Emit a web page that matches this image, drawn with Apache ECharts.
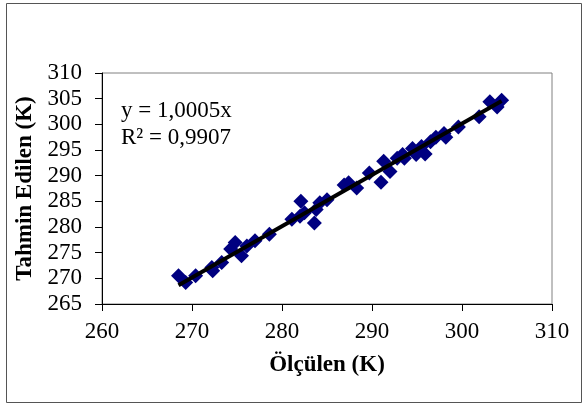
<!DOCTYPE html>
<html>
<head>
<meta charset="utf-8">
<script src="https://cdn.jsdelivr.net/npm/echarts@6/dist/echarts.min.js"></script>
<style>
html, body { margin: 0; padding: 0; background: #fff; }
#app { width: 583px; height: 403px; }
</style>
</head>
<body>
<div id="app"></div>
<script>
// ölçülen (x) ve tahmin edilen (y) sıcaklıklar, K
var olculen = [268.5, 269.3, 270.4, 272.2, 272.3, 273.3, 274.3, 274.8, 275.5, 276.1,
    277.0, 278.6, 281.1, 282.0, 282.1, 282.5, 283.6, 283.8, 284.2, 285.0,
    286.9, 287.4, 288.3, 289.7, 291.0, 291.3, 292.0, 292.8, 293.4, 293.6,
    294.5, 294.9, 295.5, 295.9, 296.5, 297.1, 298.0, 298.2, 299.6, 301.9,
    303.1, 303.9, 304.4];
var tahmin = [270.5, 269.2, 270.5, 272.1, 271.5, 273.1, 275.7, 277.0, 274.4, 276.3,
    277.3, 278.6, 281.5, 282.1, 285.0, 282.8, 280.8, 283.4, 284.7, 285.3,
    288.2, 288.6, 287.6, 290.5, 288.7, 292.8, 290.8, 293.4, 294.1, 293.4,
    295.3, 294.1, 295.7, 294.2, 296.6, 297.5, 298.2, 297.5, 299.5, 301.5,
    304.4, 303.4, 304.7];
var egim = 1.0005;
var denklem = 'y = 1,0005x';
var r2 = 'R² = 0,9907';

var noktalar = olculen.map(function (x, i) { return [x, tahmin[i]]; });
var xMin = Math.min.apply(null, olculen), xMax = Math.max.apply(null, olculen);
var trend = [[xMin, xMin * egim], [xMax, xMax * egim]];

var font = '"Liberation Serif", "Times New Roman", serif';
var myChart = echarts.init(document.getElementById('app'));
var option = {
    animation: false,
    backgroundColor: '#fff',
    grid: { left: 102, right: 31, top: 73, bottom: 99, show: true, borderColor: '#808080', borderWidth: 1 },
    xAxis: {
        type: 'value', min: 260, max: 310, interval: 10,
        name: 'Ölçülen (K)', nameLocation: 'middle', nameGap: 50,
        nameTextStyle: { fontFamily: font, fontSize: 23, fontWeight: 'bold', color: '#000' },
        axisLine: { show: true, lineStyle: { color: '#000', width: 1 } },
        axisTick: { show: true, length: 7, lineStyle: { color: '#000' } },
        axisLabel: { fontFamily: font, fontSize: 23, color: '#000', margin: 16 },
        splitLine: { show: false }
    },
    yAxis: {
        type: 'value', min: 265, max: 310, interval: 5,
        name: 'Tahmin Edilen (K)', nameLocation: 'middle', nameGap: 60,
        nameTextStyle: { fontFamily: font, fontSize: 23, fontWeight: 'bold', color: '#000' },
        axisLine: { show: true, lineStyle: { color: '#000', width: 1 } },
        axisTick: { show: true, length: 7, lineStyle: { color: '#000' } },
        axisLabel: { fontFamily: font, fontSize: 23, color: '#000', margin: 20 },
        splitLine: { show: false }
    },
    graphic: [
        { type: 'rect', left: 4, top: 1, shape: { width: 575, height: 399 },
          style: { fill: 'none', stroke: '#555', lineWidth: 1 }, silent: true },
        { type: 'text', left: 121, top: 99, style: { text: denklem, font: '23px ' + font, fill: '#000' } },
        { type: 'text', left: 121, top: 126, style: { text: r2, font: '23px ' + font, fill: '#000' } }
    ],
    series: [{
        type: 'scatter',
        data: noktalar,
        symbol: 'diamond',
        symbolSize: 15,
        itemStyle: { color: '#000080', opacity: 1 },
        z: 2
    }, {
        type: 'line',
        data: trend,
        symbol: 'none',
        lineStyle: { color: '#000', width: 4 },
        z: 3
    }]
};
myChart.setOption(option);
</script>
</body>
</html>
